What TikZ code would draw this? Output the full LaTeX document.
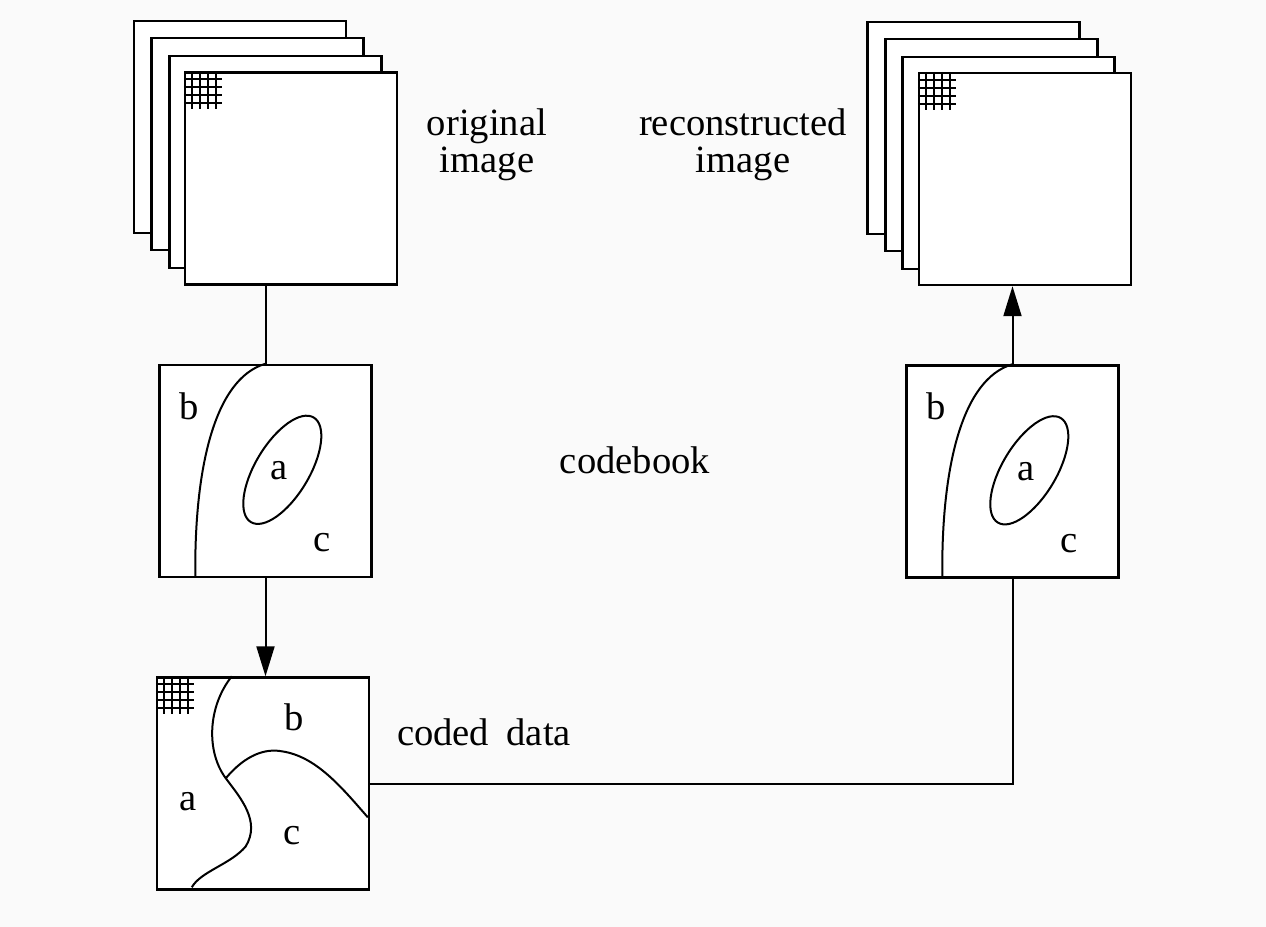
\documentclass[tikz,border=0pt]{standalone}
\usepackage{fontspec}
\setmainfont{Liberation Serif}
\usepackage{tikz}
\usetikzlibrary{arrows.meta,positioning}

\tikzset{
  frame/.style={draw, line width=1.2pt, fill=white, minimum size=106pt, inner sep=0pt},
  region/.style={line width=1pt},
  gridline/.style={line width=1pt},
  label/.style={font=\fontsize{19.3}{18.5}\selectfont, inner sep=0pt},
  flow/.style={line width=1pt},
  tip/.style={-{Triangle[length=15pt,width=9pt]}}
}

% 4x4 pixel grid in the upper left corner of a frame
\newcommand{\pixgrid}[1]{%
  \begin{scope}[shift={(#1.north west)}]
    \foreach \k in {8,16,24,32} {
      \draw[gridline] (\k,0) -- (\k,38);
      \draw[gridline] (0,\k) -- (38,\k);
    }
  \end{scope}}

% codebook regions a, b, c
\newcommand{\cbregions}[1]{%
  \begin{scope}[shift={(#1.north west)}]
    \draw[region] (107,0) .. controls (56,15) and (36,105) .. (37,212);
    \draw[region, rotate around={59:(124,106)}] (124,106) ellipse [x radius=61, y radius=27];
    \node[label] at (31,42) {b};
    \node[label] at (121,107) {a};
    \node[label] at (164,179) {c};
  \end{scope}}

\begin{document}
\begin{tikzpicture}[x=0.5pt, y=-0.5pt]
  \fill[black!2] (0,0) rectangle (1266,927);
  \useasboundingbox (0,0) rectangle (1266,927);

  % input stack
  \node[frame] (orig1) at (240,127) {};
  \node[frame] (orig2) at (257.5,144) {};
  \node[frame] (orig3) at (275.5,162) {};
  \node[frame] (orig4) at (291,178.5) {};
  \pixgrid{orig4}
  \node[label, align=center] (origtxt) at (487,145) {original\\image};

  % output stack
  \node[frame] (recon1) at (973.5,128) {};
  \node[frame] (recon2) at (991.5,145) {};
  \node[frame] (recon3) at (1008.5,163) {};
  \node[frame] (recon4) at (1025,179) {};
  \pixgrid{recon4}
  \node[label, align=center] (recontxt) at (743,145) {reconstructed\\image};

  % codebooks
  \node[frame] (cbl) at (265.5,471) {};
  \cbregions{cbl}
  \node[frame] (cbr) at (1012.5,471.5) {};
  \cbregions{cbr}
  \node[label, anchor=base] (cbtxt) at (635,473) {codebook};

  % coded data
  \node[frame] (coded) at (263,783.5) {};
  \pixgrid{coded}
  \begin{scope}[shift={(coded.north west)}]
    \draw[region] (76,0) .. controls (52,30) and (50,75) .. (70,102)
      .. controls (85,122) and (105,145) .. (90,170)
      .. controls (75,188) and (45,195) .. (36,211);
    \draw[region] (70,102) .. controls (90,78) and (110,72) .. (126,75)
      .. controls (160,80) and (185,110) .. (212,141);
    \node[label] at (138,41) {b};
    \node[label] at (32,125) {a};
    \node[label] at (136,159) {c};
  \end{scope}
  \node[label, anchor=base] (codedtxt) at (484,745) {coded\hspace{0.45em}data};

  % connections
  \draw[flow] (orig4.south -| cbl.north) -- (cbl.north);
  \draw[flow, tip] (cbl.south) -- (cbl.south |- coded.north);
  \draw[flow] (coded.east) -- (coded.east -| cbr.south) -- (cbr.south);
  \draw[flow, tip] (cbr.north) -- (cbr.north |- recon4.south);
\end{tikzpicture}
\end{document}
